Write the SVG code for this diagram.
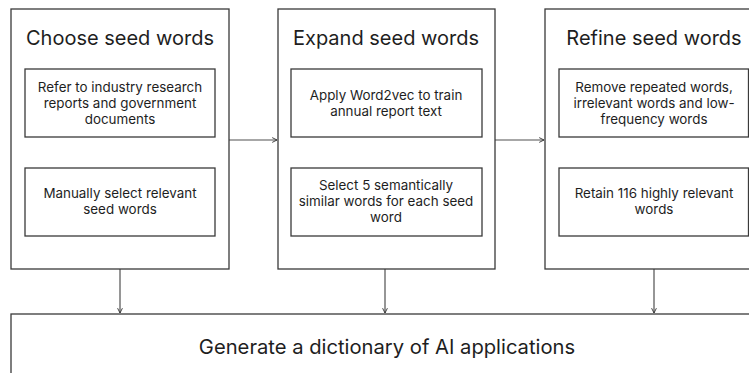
<svg xmlns="http://www.w3.org/2000/svg" width="749" height="373" viewBox="0 0 749 373">
<style>
.box{fill:#fff;stroke:#3a3a3a;stroke-width:1.3}
.in{fill:#fff;stroke:#3a3a3a;stroke-width:1.3}
.t{font-family:Inter,"Liberation Sans",sans-serif;fill:#1e1e1e;text-anchor:middle}
.h{font-size:20px}
.s{font-size:13.4px}
.b{font-size:20.2px}
.c{fill:none;stroke:#505050;stroke-width:1.2}
</style>
<defs>
<marker id="ah" viewBox="0 0 10 10" refX="9" refY="5" markerWidth="6" markerHeight="6" markerUnits="userSpaceOnUse" orient="auto">
<path d="M1,1 L9,5 L1,9" fill="none" stroke="#303030" stroke-width="1.5"/>
</marker>
</defs>
<rect width="749" height="373" fill="#fff"/>
<g id="connectors">
<line class="c" x1="229" y1="140" x2="277" y2="140" marker-end="url(#ah)"/>
<line class="c" x1="495" y1="140" x2="544" y2="140" marker-end="url(#ah)"/>
<line class="c" x1="120" y1="269" x2="120" y2="313" marker-end="url(#ah)"/>
<line class="c" x1="385" y1="269" x2="385" y2="313" marker-end="url(#ah)"/>
<line class="c" x1="654" y1="269" x2="654" y2="313" marker-end="url(#ah)"/>
</g>
<g id="choose">
<rect class="box" x="11" y="9" width="218" height="260"/>
<text class="t h" x="120" y="45">Choose seed words</text>
<rect class="in" x="25" y="69" width="190" height="68"/>
<text class="t s" x="120" y="92">Refer to industry research</text>
<text class="t s" x="120" y="108">reports and government</text>
<text class="t s" x="120" y="124">documents</text>
<rect class="in" x="25" y="168" width="190" height="68"/>
<text class="t s" x="120" y="198">Manually select relevant</text>
<text class="t s" x="120" y="214">seed words</text>
</g>
<g id="expand">
<rect class="box" x="278" y="9" width="217" height="260"/>
<text class="t h" x="386" y="45">Expand seed words</text>
<rect class="in" x="291" y="69" width="191" height="68"/>
<text class="t s" x="386" y="100">Apply Word2vec to train</text>
<text class="t s" x="386" y="116">annual report text</text>
<rect class="in" x="291" y="168" width="191" height="68"/>
<text class="t s" x="386" y="190">Select 5 semantically</text>
<text class="t s" x="386" y="206">similar words for each seed</text>
<text class="t s" x="386" y="222">word</text>
</g>
<g id="refine">
<rect class="box" x="545" y="9" width="218" height="260"/>
<text class="t h" x="654" y="45">Refine seed words</text>
<rect class="in" x="559" y="69" width="189.5" height="68"/>
<text class="t s" x="654" y="92">Remove repeated words,</text>
<text class="t s" x="654" y="108">irrelevant words and low-</text>
<text class="t s" x="654" y="124">frequency words</text>
<rect class="in" x="559" y="168" width="189.5" height="68"/>
<text class="t s" x="654" y="198">Retain 116 highly relevant</text>
<text class="t s" x="654" y="214">words</text>
</g>
<g id="generate">
<rect class="box" x="11" y="314" width="752" height="80"/>
<text class="t b" x="387" y="354">Generate a dictionary of AI applications</text>
</g>
</svg>
